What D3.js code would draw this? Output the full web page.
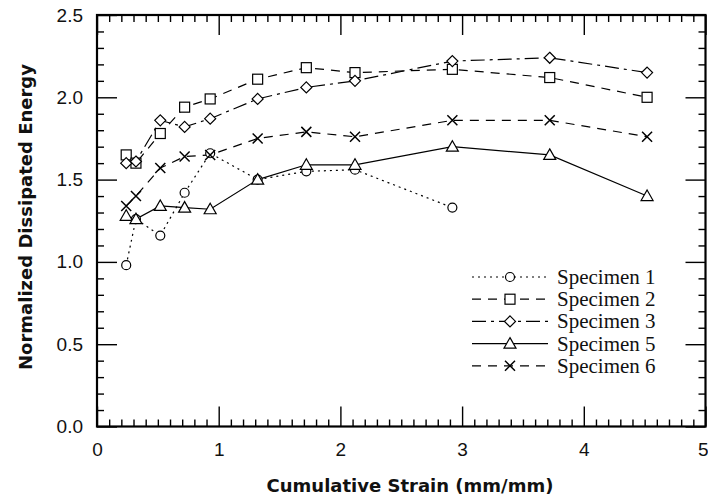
<!DOCTYPE html>
<html>
<head>
<meta charset="utf-8">
<script src="https://cdn.jsdelivr.net/npm/d3@7"></script>
<style>
  html, body { margin: 0; padding: 0; background: #fff; }
  svg { display: block; }
</style>
</head>
<body>
<svg id="chart" width="708" height="497"></svg>
<script>
// ---- data ----
const strain = [0.24, 0.32, 0.52, 0.72, 0.93, 1.32, 1.72, 2.12, 2.92, 3.72, 4.52];
const specimen1 = [0.98, 1.26, 1.16, 1.42, 1.66, 1.50, 1.55, 1.56, 1.33];
const specimen2 = [1.65, 1.60, 1.78, 1.94, 1.99, 2.11, 2.18, 2.15, 2.17, 2.12, 2.00];
const specimen3 = [1.60, 1.61, 1.86, 1.82, 1.87, 1.99, 2.06, 2.10, 2.22, 2.24, 2.15];
const specimen5 = [1.28, 1.26, 1.34, 1.33, 1.32, 1.50, 1.59, 1.59, 1.70, 1.65, 1.40];
const specimen6 = [1.34, 1.40, 1.57, 1.64, 1.65, 1.75, 1.79, 1.76, 1.86, 1.86, 1.76];
const seriesNames = ["Specimen 1", "Specimen 2", "Specimen 3", "Specimen 5", "Specimen 6"];
const xTicks = [0, 1, 2, 3, 4, 5];
const yTicks = [0.0, 0.5, 1.0, 1.5, 2.0, 2.5];
const xLabel = "Cumulative Strain (mm/mm)";
const yLabel = "Normalized Dissipated Energy";

// ---- styles ----
const seriesStyle = [
  { marker: "circle",   dash: "2,4" },
  { marker: "square",   dash: "9,7" },
  { marker: "diamond",  dash: "14,5,3,5" },
  { marker: "triangle", dash: null },
  { marker: "cross",    dash: "9,7" }
];
const seriesValues = [specimen1, specimen2, specimen3, specimen5, specimen6];

const L = 97, R = 705.5, T = 15, B = 426.5;
const svg = d3.select("#chart");
const x = d3.scaleLinear().domain([0, 5]).range([L, R]);
const y = d3.scaleLinear().domain([0, 2.5]).range([B, T]);

const minorX = d3.range(0, 5.001, 0.1).filter(v => Math.abs(v - Math.round(v)) > 1e-6);
const minorY = d3.range(0, 2.501, 0.1).filter(v => Math.abs(v * 2 - Math.round(v * 2)) > 1e-6);

function styleAxis(g) {
  g.select(".domain").remove();
  g.selectAll(".tick line").attr("stroke", "#000").attr("stroke-width", 1.4);
  g.selectAll("text").attr("fill", "#111")
    .style("font-family", "'Liberation Sans', Arial, sans-serif").style("font-size", "19px");
}

// bottom
const bottomAxis = svg.append("g").attr("transform", `translate(0,${B})`)
  .call(d3.axisBottom(x).tickValues(xTicks).tickSize(-20).tickSizeOuter(0).tickPadding(16).tickFormat(d3.format("d")))
  .call(styleAxis);
// keep last label inside the canvas
bottomAxis.selectAll(".tick").filter(d => d === 5).select("text")
  .attr("text-anchor", "end").attr("x", 2.5);
svg.append("g").attr("transform", `translate(0,${B})`)
  .call(d3.axisBottom(x).tickValues(minorX).tickSize(-7).tickSizeOuter(0).tickFormat(""))
  .call(styleAxis);
// top
svg.append("g").attr("transform", `translate(0,${T})`)
  .call(d3.axisTop(x).tickValues(xTicks).tickSize(-20).tickSizeOuter(0).tickFormat(""))
  .call(styleAxis);
svg.append("g").attr("transform", `translate(0,${T})`)
  .call(d3.axisTop(x).tickValues(minorX).tickSize(-7).tickSizeOuter(0).tickFormat(""))
  .call(styleAxis);
// left
svg.append("g").attr("transform", `translate(${L},0)`)
  .call(d3.axisLeft(y).tickValues(yTicks).tickSize(-20).tickSizeOuter(0).tickPadding(14).tickFormat(d3.format(".1f")))
  .call(styleAxis);
svg.append("g").attr("transform", `translate(${L},0)`)
  .call(d3.axisLeft(y).tickValues(minorY).tickSize(-7).tickSizeOuter(0).tickFormat(""))
  .call(styleAxis);
// right
svg.append("g").attr("transform", `translate(${R},0)`)
  .call(d3.axisRight(y).tickValues(yTicks).tickSize(-20).tickSizeOuter(0).tickFormat(""))
  .call(styleAxis);
svg.append("g").attr("transform", `translate(${R},0)`)
  .call(d3.axisRight(y).tickValues(minorY).tickSize(-7).tickSizeOuter(0).tickFormat(""))
  .call(styleAxis);

// frame
svg.append("rect").attr("x", L).attr("y", T).attr("width", R - L).attr("height", B - T)
  .attr("fill", "none").attr("stroke", "#000").attr("stroke-width", 2.2);

// axis titles
svg.append("text").attr("x", 410).attr("y", 492).attr("text-anchor", "middle")
  .style("font-family", "'DejaVu Sans', sans-serif").style("font-weight", "bold").style("font-size", "18px")
  .attr("fill", "#111").text(xLabel);
svg.append("text").attr("transform", "translate(32,217) rotate(-90)").attr("text-anchor", "middle")
  .style("font-family", "'DejaVu Sans', sans-serif").style("font-weight", "bold").style("font-size", "18px")
  .attr("fill", "#111").text(yLabel);

// markers
function drawMarker(g, type, cx, cy) {
  const s = 5;
  if (type === "circle") {
    g.append("circle").attr("cx", cx).attr("cy", cy).attr("r", 4.5)
      .attr("fill", "#fff").attr("stroke", "#000").attr("stroke-width", 1.2);
  } else if (type === "square") {
    g.append("rect").attr("x", cx - s).attr("y", cy - s).attr("width", 2 * s).attr("height", 2 * s)
      .attr("fill", "#fff").attr("stroke", "#000").attr("stroke-width", 1.2);
  } else if (type === "diamond") {
    g.append("path").attr("d", `M${cx},${cy - 5.5}L${cx + 5.5},${cy}L${cx},${cy + 5.5}L${cx - 5.5},${cy}Z`)
      .attr("fill", "#fff").attr("stroke", "#000").attr("stroke-width", 1.2);
  } else if (type === "triangle") {
    g.append("path").attr("d", `M${cx},${cy - 6}L${cx + 6},${cy + 4.5}L${cx - 6},${cy + 4.5}Z`)
      .attr("fill", "#fff").attr("stroke", "#000").attr("stroke-width", 1.2);
  } else if (type === "cross") {
    g.append("path").attr("d", `M${cx - 5},${cy - 5}L${cx + 5},${cy + 5}M${cx - 5},${cy + 5}L${cx + 5},${cy - 5}`)
      .attr("fill", "none").attr("stroke", "#000").attr("stroke-width", 1.5);
  }
}

const line = d3.line().x(d => x(d[0])).y(d => y(d[1]));
const plot = svg.append("g");
seriesValues.forEach((vals, i) => {
  const pts = vals.map((v, j) => [strain[j], v]);
  plot.append("path").attr("d", line(pts)).attr("fill", "none").attr("stroke", "#000")
    .attr("stroke-width", 1.2).attr("stroke-dasharray", seriesStyle[i].dash);
});
seriesValues.forEach((vals, i) => {
  const g = plot.append("g");
  vals.forEach((v, j) => drawMarker(g, seriesStyle[i].marker, x(strain[j]), y(v)));
});

// legend
const lg = svg.append("g");
seriesNames.forEach((name, i) => {
  const cy = 277 + i * 22.2;
  lg.append("line").attr("x1", 472).attr("x2", 548).attr("y1", cy).attr("y2", cy)
    .attr("stroke", "#000").attr("stroke-width", 1.2).attr("stroke-dasharray", seriesStyle[i].dash);
  drawMarker(lg, seriesStyle[i].marker, 510, cy);
  lg.append("text").attr("x", 557).attr("y", cy + 7)
    .style("font-family", "'Liberation Serif', serif").style("font-size", "21px")
    .attr("fill", "#111").text(name);
});
</script>
</body>
</html>
